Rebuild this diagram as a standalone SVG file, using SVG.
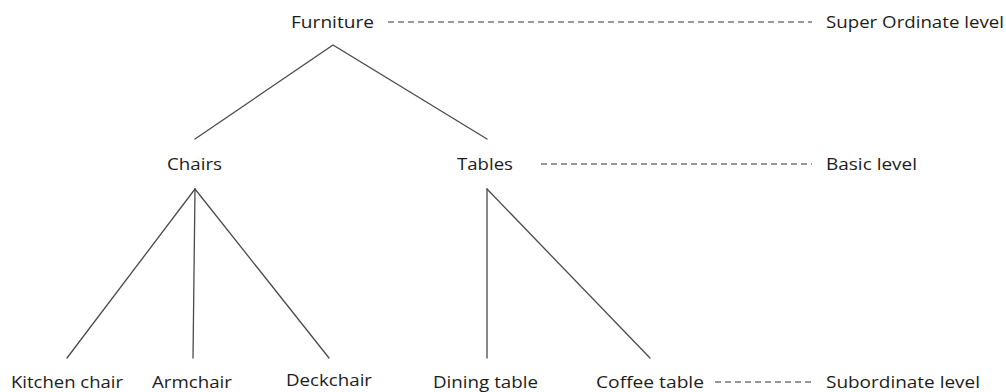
<svg xmlns="http://www.w3.org/2000/svg" width="1006" height="392" viewBox="0 0 1006 392">
  <style>
    text { font-family: "Open Sans", "Liberation Sans", sans-serif; font-size: 17px; fill: #1c1c1c; }
    .edge { stroke: #4a4a4a; stroke-width: 1.3; fill: none; stroke-linecap: round; }
    .guide { stroke: #333; stroke-width: 1.2; stroke-dasharray: 6 4; fill: none; }
  </style>
  <rect width="1006" height="392" fill="#ffffff"/>

  <!-- tree connectors and level guides -->
  <g id="connectors">
    <polyline class="edge" points="195,139 333,45 487,139"/>
    <line class="edge" x1="195" y1="189" x2="67" y2="358"/>
    <line class="edge" x1="195" y1="189" x2="193" y2="358"/>
    <line class="edge" x1="195" y1="189" x2="329" y2="358"/>
    <line class="edge" x1="487" y1="189" x2="487" y2="358"/>
    <line class="edge" x1="487" y1="189" x2="650" y2="358"/>
    <line class="guide" x1="388" y1="22" x2="812" y2="22"/>
    <line class="guide" x1="541" y1="164" x2="812" y2="164"/>
    <line class="guide" x1="715" y1="382" x2="812" y2="382"/>
  </g>

  <g id="furniture"><text x="291" y="28" textLength="83" lengthAdjust="spacingAndGlyphs">Furniture</text></g>
  <g id="chairs"><text x="167" y="170" textLength="55" lengthAdjust="spacingAndGlyphs">Chairs</text></g>
  <g id="tables"><text x="457" y="170" textLength="56" lengthAdjust="spacingAndGlyphs">Tables</text></g>
  <g id="kitchen-chair"><text x="11" y="388" textLength="112" lengthAdjust="spacingAndGlyphs">Kitchen chair</text></g>
  <g id="armchair"><text x="152" y="388" textLength="80" lengthAdjust="spacingAndGlyphs">Armchair</text></g>
  <g id="deckchair"><text x="286" y="386" textLength="86" lengthAdjust="spacingAndGlyphs">Deckchair</text></g>
  <g id="dining-table"><text x="433" y="388" textLength="105" lengthAdjust="spacingAndGlyphs">Dining table</text></g>
  <g id="coffee-table"><text x="596" y="388" textLength="108" lengthAdjust="spacingAndGlyphs">Coffee table</text></g>

  <g id="level-superordinate"><text x="826" y="28" textLength="178" lengthAdjust="spacingAndGlyphs">Super Ordinate level</text></g>
  <g id="level-basic"><text x="826" y="170" textLength="91" lengthAdjust="spacingAndGlyphs">Basic level</text></g>
  <g id="level-subordinate"><text x="826" y="388" textLength="154" lengthAdjust="spacingAndGlyphs">Subordinate level</text></g>
</svg>
